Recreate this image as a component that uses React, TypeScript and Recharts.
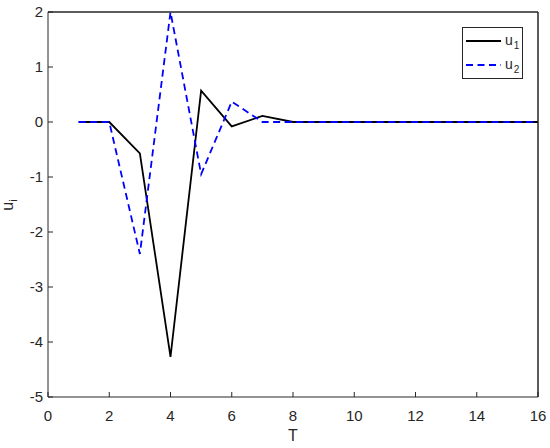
import React from "react"
import {
  LineChart,
  Line,
  XAxis,
  YAxis,
  Legend,
  Label,
  ReferenceLine,
} from "recharts"

const timeSteps = [1, 2, 3, 4, 5, 6, 7, 8, 9, 10, 11, 12, 13, 14, 15, 16]
const u1Values = [0, 0, -0.57, -4.27, 0.57, -0.08, 0.11, 0, 0, 0, 0, 0, 0, 0, 0, 0]
const u2Values = [0, 0, -2.4, 2.0, -0.95, 0.37, 0, 0, 0, 0, 0, 0, 0, 0, 0, 0]
const xTicks = [0, 2, 4, 6, 8, 10, 12, 14, 16]
const yTicks = [-5, -4, -3, -2, -1, 0, 1, 2]

const AXIS_COLOR = "#262626"
const U1_COLOR = "#000000"
const U2_COLOR = "#0000ff"
const FONT = "'Liberation Sans', Arial, Helvetica, sans-serif"

const chartData = timeSteps.map((t, i) => ({
  t,
  u1: u1Values[i],
  u2: u2Values[i],
}))

function LegendBox() {
  return (
    <svg width={62} height={52} style={{ display: "block" }}>
      <rect x={0.5} y={0.5} width={60} height={51} fill="#fff" stroke={AXIS_COLOR} strokeWidth={1} />
      <line x1={4} x2={39} y1={14} y2={14} stroke={U1_COLOR} strokeWidth={1.8} />
      <line x1={4} x2={39} y1={38} y2={38} stroke={U2_COLOR} strokeWidth={1.8} strokeDasharray="7 4.5" />
      <text x={43} y={18} fontSize={14} fill={AXIS_COLOR} fontFamily={FONT}>
        u<tspan fontSize={10} dy={4} dx={1}>1</tspan>
      </text>
      <text x={43} y={42} fontSize={14} fill={AXIS_COLOR} fontFamily={FONT}>
        u<tspan fontSize={10} dy={4} dx={1}>2</tspan>
      </text>
    </svg>
  )
}

function YLabel() {
  return (
    <text
      x={13}
      y={205}
      transform="rotate(-90 13 205)"
      textAnchor="middle"
      fontSize={16}
      fill={AXIS_COLOR}
      fontFamily={FONT}
    >
      u<tspan fontSize={11} dy={4}>i</tspan>
    </text>
  )
}

function XLabel() {
  return (
    <text x={293} y={441} textAnchor="middle" fontSize={16} fill={AXIS_COLOR} fontFamily={FONT}>
      T
    </text>
  )
}

export default function App() {
  return (
    <div style={{ position: "absolute", left: 0, top: 0, width: 550, height: 448, background: "#fff" }}>
      <LineChart
        width={550}
        height={448}
        data={chartData}
        margin={{ top: 0, right: 0, left: 0, bottom: 0 }}
        style={{ fontFamily: FONT }}
      >
        <XAxis
          dataKey="t"
          type="number"
          domain={[0, 16]}
          ticks={xTicks}
          height={51}
          tickSize={-5}
          tickMargin={18}
          stroke={AXIS_COLOR}
          tick={{ fill: AXIS_COLOR, fontSize: 15 }}
          interval={0}
        >
          <Label content={<XLabel />} />
        </XAxis>
        <XAxis
          xAxisId="top"
          orientation="top"
          dataKey="t"
          type="number"
          domain={[0, 16]}
          ticks={xTicks}
          height={12}
          tickSize={-5}
          tick={false}
          stroke={AXIS_COLOR}
        />
        <YAxis
          type="number"
          domain={[-5, 2]}
          ticks={yTicks}
          width={48}
          tickSize={-5}
          tickMargin={10}
          stroke={AXIS_COLOR}
          tick={{ fill: AXIS_COLOR, fontSize: 15 }}
          interval={0}
        >
          <Label content={<YLabel />} />
        </YAxis>
        <YAxis
          yAxisId="right"
          orientation="right"
          type="number"
          domain={[-5, 2]}
          ticks={yTicks}
          width={12}
          tickSize={-5}
          tick={false}
          stroke={AXIS_COLOR}
        />
        {/* box edges at the domain limits */}
        <ReferenceLine x={16} stroke={AXIS_COLOR} strokeWidth={1} />
        <ReferenceLine y={2} stroke={AXIS_COLOR} strokeWidth={1} />
        <Legend
          layout="horizontal"
          verticalAlign="middle"
          align="center"
          content={<LegendBox />}
          wrapperStyle={{ left: 462, top: 27, width: 62, height: 52 }}
        />
        <Line
          type="linear"
          dataKey="u1"
          stroke={U1_COLOR}
          strokeWidth={1.8}
          dot={false}
          isAnimationActive={false}
        />
        {/* same domains on top/right axes, so u2 lands in the same place */}
        <Line
          xAxisId="top"
          yAxisId="right"
          type="linear"
          dataKey="u2"
          stroke={U2_COLOR}
          strokeWidth={1.8}
          strokeDasharray="7 4.5"
          dot={false}
          isAnimationActive={false}
        />
      </LineChart>
    </div>
  )
}
